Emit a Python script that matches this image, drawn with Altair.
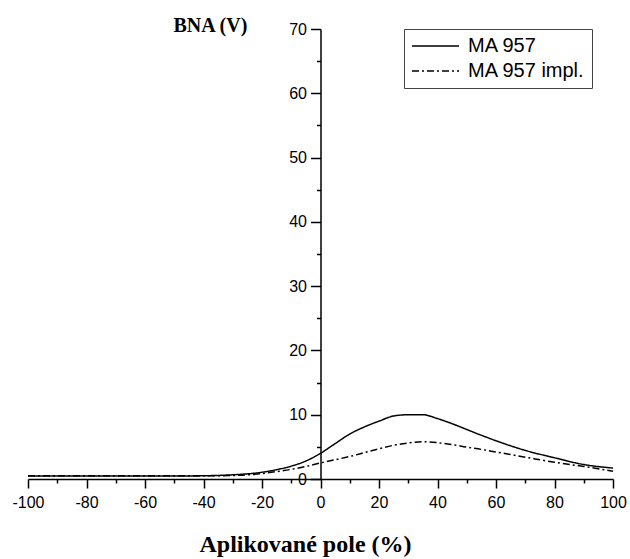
import altair as alt
import pandas as pd

# Applied field (%)
x_vals = [-100, -90, -80, -70, -60, -50, -40, -30, -20, -15, -10, -5, 0, 5, 10,
          15, 20, 25, 30, 35, 40, 45, 50, 55, 60, 70, 80, 90, 100]
# BNA (V) for MA 957
ma957 = [0.45, 0.45, 0.45, 0.45, 0.45, 0.45, 0.5, 0.65, 1.05, 1.45, 2.0, 2.8, 4.0, 5.5, 7.0,
         8.1, 9.0, 9.8, 10.0, 10.0, 9.4, 8.6, 7.7, 6.8, 5.95, 4.45, 3.3, 2.25, 1.7]
# BNA (V) for MA 957 impl.
ma957_impl = [0.5, 0.5, 0.5, 0.5, 0.5, 0.5, 0.5, 0.55, 0.85, 1.15, 1.5, 1.95, 2.5, 3.0, 3.5,
              4.1, 4.7, 5.25, 5.6, 5.8, 5.65, 5.35, 4.95, 4.6, 4.2, 3.4, 2.6, 1.95, 1.2]
series_names = ["MA 957", "MA 957 impl."]

x_ticks = list(range(-100, 101, 10))
y_ticks = list(range(0, 71, 5))

rows = []
for name, vals in zip(series_names, [ma957, ma957_impl]):
    for xv, yv in zip(x_vals, vals):
        rows.append({"pole": xv, "bna": yv, "serie": name})
df = pd.DataFrame(rows)

W, H = 585, 450

chart = alt.Chart(df).mark_line(
    color="black", strokeWidth=1.5, interpolate="monotone"
).encode(
    x=alt.X(
        "pole:Q",
        scale=alt.Scale(domain=[-100, 100], nice=False, zero=False),
        axis=alt.Axis(
            values=x_ticks,
            labelExpr="datum.value % 20 === 0 ? '' + datum.value : ''",
            labelFlush=False,
            labelOverlap=False,
            tickSize={"condition": {"test": "datum.value % 20 === 0", "value": 9}, "value": 4},
            title="Aplikované pole (%)",
            titleFont="Liberation Serif",
            titleFontSize=24,
            titleFontWeight="bold",
            titleColor="black",
            titleAlign="center",
            titleBaseline="alphabetic",
            titleX=277,
            titleY=72,
            labelFont="Liberation Sans",
            labelFontSize=16,
            labelColor="black",
            labelPadding=6,
            domainColor="black",
            domainWidth=1.5,
            tickColor="black",
            tickWidth=1.5,
            grid=False,
        ),
    ),
    y=alt.Y(
        "bna:Q",
        scale=alt.Scale(domain=[0, 70], nice=False),
        axis=alt.Axis(
            values=y_ticks,
            offset=-W / 2,
            labelExpr="datum.value % 10 === 0 ? '' + datum.value : ''",
            labelFlush=False,
            labelOverlap=False,
            tickSize={"condition": {"test": "datum.value % 10 === 0", "value": 10}, "value": 4},
            title="BNA (V)",
            titleFont="Liberation Serif",
            titleFontSize=20,
            titleFontWeight="bold",
            titleColor="black",
            titleAngle=0,
            titleAlign="left",
            titleBaseline="alphabetic",
            titleX=-147.5,
            titleY=2,
            labelFont="Liberation Sans",
            labelFontSize=16,
            labelColor="black",
            labelPadding=4,
            domainColor="black",
            domainWidth=1.5,
            tickColor="black",
            tickWidth=1.5,
            grid=False,
        ),
    ),
    strokeDash=alt.StrokeDash(
        "serie:N",
        scale=alt.Scale(domain=series_names, range=[[1, 0], [7, 3, 2, 3]]),
        legend=alt.Legend(
            title=None,
            orient="none",
            legendX=376,
            legendY=0,
            symbolType="stroke",
            symbolSize=2209,
            symbolStrokeWidth=1.5,
            symbolStrokeColor="black",
            clipHeight=20,
            labelFont="Liberation Sans",
            labelFontSize=20,
            labelColor="black",
            labelOffset=8,
            padding=7,
            rowPadding=5,
            strokeColor="#444444",
        ),
    ),
).properties(
    width=W,
    height=H,
    autosize=alt.AutoSizeParams(type="none"),
    padding={"left": 28, "top": 29, "right": 17, "bottom": 80},
    background="white",
).configure_view(stroke=None)

chart.save("out.html", embed_options={"renderer": "svg", "actions": False})
